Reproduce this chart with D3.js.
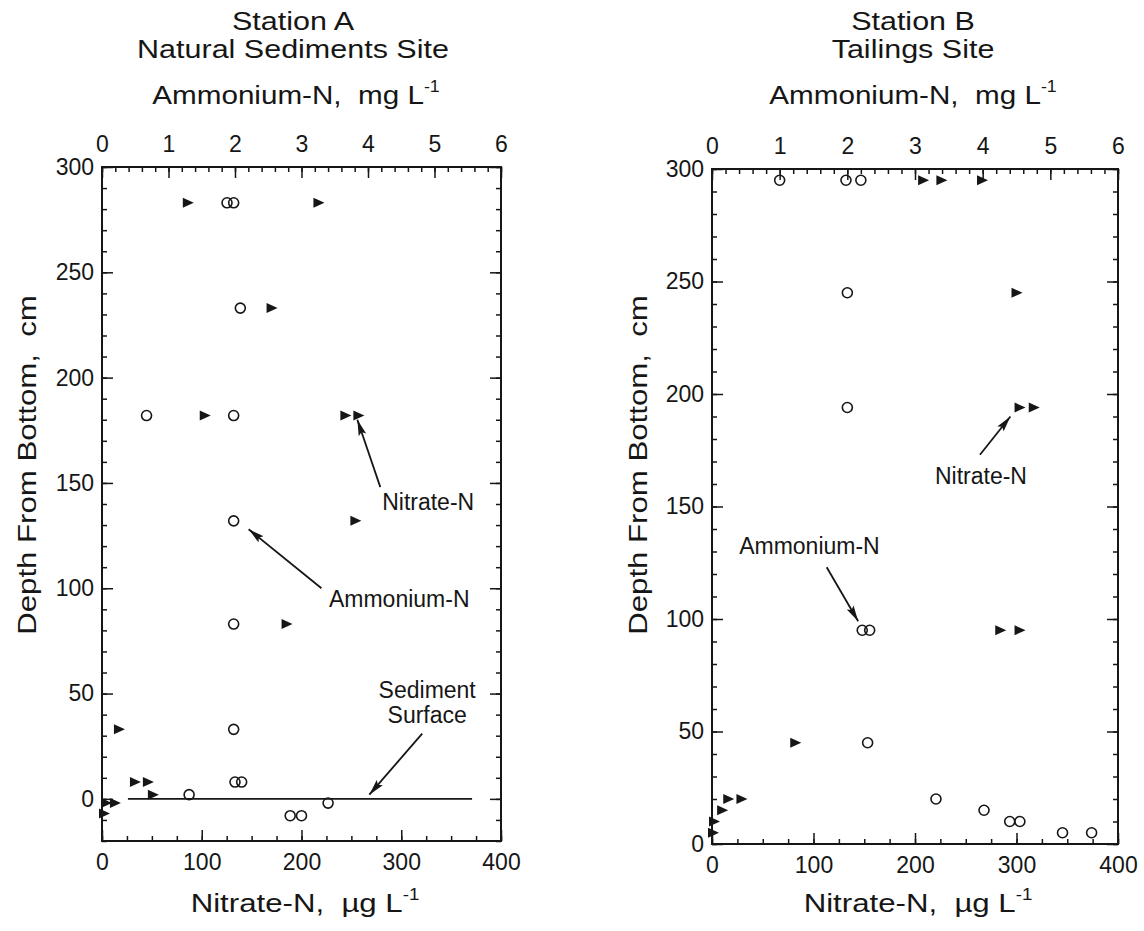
<!DOCTYPE html>
<html>
<head>
<meta charset="utf-8">
<script src="https://cdn.jsdelivr.net/npm/d3@7/dist/d3.min.js"></script>
<style>
  body { margin: 0; background: #fff; }
  svg { display: block; }
  text { font-family: "Liberation Sans", Arial, Helvetica, sans-serif; fill: #161616; }
</style>
</head>
<body>
<div id="chart"></div>
<script>
// Station A - ammonium (open circles, top axis, mg/L)
const ammoniumA_depth = [283, 283, 233, 182, 182, 132, 83, 33, 8, 8, 2, -2, -8, -8];
const ammoniumA_value = [1.88, 1.98, 2.08, 0.67, 1.98, 1.98, 1.98, 1.98, 2.0, 2.1, 1.31, 3.4, 2.83, 3.0];
// Station A - nitrate (filled triangles, bottom axis, ug/L)
const nitrateA_depth = [283, 283, 233, 182, 182, 182, 132, 83, 33, 8, 8, 2, -2, -2, -7];
const nitrateA_value = [86, 217, 170, 103, 244, 257, 254, 185, 17, 33, 46, 51, 4, 13, 2];

// Station B
const ammoniumB_depth = [295, 295, 295, 245, 194, 95, 95, 45, 20, 15, 10, 10, 5, 5];
const ammoniumB_value = [1.0, 1.98, 2.2, 2.0, 2.0, 2.22, 2.33, 2.3, 3.31, 4.02, 4.4, 4.55, 5.18, 5.61];
const nitrateB_depth = [295, 295, 295, 245, 194, 194, 95, 95, 45, 20, 20, 15, 10, 5];
const nitrateB_value = [208, 226, 266, 300, 303, 317, 284, 303, 82, 16, 29, 10, 2, 1];

// axes
const ammoniumTicks = [0, 1, 2, 3, 4, 5, 6];
const nitrateTicks = [0, 100, 200, 300, 400];
const depthTicks = [0, 50, 100, 150, 200, 250, 300];

// annotations, in (nitrate, depth) units of each panel
const annotA = [
  {lines: ["Nitrate-N"], tx: 327, ty: 137, from: [279, 148], to: [256, 180]},
  {lines: ["Ammonium-N"], tx: 298, ty: 91, from: [220, 100], to: [147, 128]},
  {lines: ["Sediment", "Surface"], tx: 326, ty: 48, from: [321, 31], to: [268, 2]}
];
const annotB = [
  {lines: ["Nitrate-N"], tx: 265, ty: 160, from: [264, 173], to: [294, 190]},
  {lines: ["Ammonium-N"], tx: 96, ty: 129, from: [113, 123], to: [144, 99]}
];
const surfaceLineA = [26, 371]; // nitrate extent of the depth-0 line

const width = 1144, height = 931;
const svg = d3.select("#chart").append("svg")
  .attr("width", width).attr("height", height);

svg.append("defs").append("marker")
  .attr("id", "arrow")
  .attr("viewBox", "0 0 16 8")
  .attr("refX", 16).attr("refY", 4)
  .attr("markerWidth", 16).attr("markerHeight", 8)
  .attr("markerUnits", "userSpaceOnUse")
  .attr("orient", "auto")
  .append("path").attr("d", "M0,0L16,4L0,8L3,4Z").attr("fill", "#161616");

function unitLabel(sel, main, sup) {
  sel.append("tspan").text(main);
  sel.append("tspan").attr("font-size", "0.6em").attr("dy", "-0.75em").text(sup);
}

// the big labels of the original are a bit wider than the font
function wideText(g, x, y, rot, size, stretch) {
  return g.append("g")
    .attr("transform", `translate(${x},${y})${rot ? " rotate(-90)" : ""} scale(${stretch},1)`)
    .append("text").attr("text-anchor", "middle").attr("font-size", size);
}

function panel(p) {
  const g = svg.append("g");
  const x = d3.scaleLinear().domain([0, 400]).range([p.left, p.right]);
  const xa = d3.scaleLinear().domain([0, 6]).range([p.left, p.right]);
  const y = d3.scaleLinear().domain(p.yDomain).range([p.bottom, p.top]);

  // minor ticks
  const minorY = d3.range(p.yDomain[0], p.yDomain[1] + 1, 10);
  const minorA = d3.range(0, 6.01, 0.2);
  const minorN = d3.range(0, 401, 25);
  const minor = [
    [d3.axisLeft(y).tickValues(minorY), p.left, 0],
    [d3.axisRight(y).tickValues(minorY), p.right, 0],
    [d3.axisTop(xa).tickValues(minorA), 0, p.top],
    [d3.axisBottom(x).tickValues(minorN), 0, p.bottom]
  ];
  minor.forEach(([ax, tx, ty]) => {
    g.append("g").attr("transform", `translate(${tx},${ty})`)
      .call(ax.tickSize(-5).tickFormat(""))
      .call(s => s.select(".domain").remove())
      .selectAll("line").attr("stroke", "#161616").attr("stroke-width", 1.3);
  });

  // major ticks + labels
  g.append("g").attr("transform", `translate(${p.left},0)`)
    .call(d3.axisLeft(y).tickValues(depthTicks).tickSize(-11).tickPadding(8).tickFormat(d3.format("d")))
    .call(s => s.select(".domain").remove());
  g.append("g").attr("transform", `translate(${p.right},0)`)
    .call(d3.axisRight(y).tickValues(depthTicks).tickSize(-11).tickFormat(""))
    .call(s => s.select(".domain").remove());
  g.append("g").attr("transform", `translate(0,${p.top})`)
    .call(d3.axisTop(xa).tickValues(ammoniumTicks).tickSize(-11).tickPadding(15).tickFormat(d3.format("d")))
    .call(s => s.select(".domain").remove());
  g.append("g").attr("transform", `translate(0,${p.bottom})`)
    .call(d3.axisBottom(x).tickValues(nitrateTicks).tickSize(-11).tickPadding(13).tickFormat(d3.format("d")))
    .call(s => s.select(".domain").remove());
  g.selectAll(".tick line").attr("stroke", "#161616").attr("stroke-width", 1.5);
  g.selectAll(".tick text").attr("font-size", 23).attr("font-family", null).attr("fill", "#161616");

  // frame
  g.append("rect")
    .attr("x", p.left).attr("y", p.top)
    .attr("width", p.right - p.left).attr("height", p.bottom - p.top)
    .attr("fill", "none").attr("stroke", "#161616").attr("stroke-width", 2);

  // titles
  p.titles.forEach((t, i) => {
    wideText(g, p.titleX, p.titleY[i], false, 25, 1.22).text(t);
  });
  wideText(g, p.topLabelX, p.topLabelY, false, 26, 1.14)
    .call(unitLabel, "Ammonium-N,\u00a0\u00a0mg L", "-1");
  wideText(g, p.bottomLabelX, p.bottomLabelY, false, 26, 1.2)
    .call(unitLabel, "Nitrate-N,\u00a0\u00a0\u00b5g L", "-1");
  wideText(g, p.yLabelX, p.yLabelY, true, 26, 1.2)
    .text("Depth From Bottom,\u00a0\u00a0cm");

  // sediment surface line
  if (p.surface) {
    g.append("line")
      .attr("x1", x(p.surface[0])).attr("x2", x(p.surface[1]))
      .attr("y1", y(0)).attr("y2", y(0))
      .attr("stroke", "#161616").attr("stroke-width", 1.6);
  }

  // ammonium circles
  g.append("g").selectAll("circle")
    .data(p.amDepth.map((d, i) => ({depth: d, v: p.amValue[i]})))
    .join("circle")
      .attr("cx", d => xa(d.v)).attr("cy", d => y(d.depth))
      .attr("r", 5).attr("fill", "none")
      .attr("stroke", "#161616").attr("stroke-width", 1.6);

  // nitrate triangles
  g.append("g").selectAll("path")
    .data(p.niDepth.map((d, i) => ({depth: d, v: p.niValue[i]})))
    .join("path")
      .attr("transform", d => `translate(${x(d.v)},${y(d.depth)})`)
      .attr("d", "M-5,-5L6,0L-5,5Z")
      .attr("fill", "#161616");

  // annotations
  p.annot.forEach(a => {
    a.lines.forEach((l, i) => {
      g.append("text").attr("x", x(a.tx)).attr("y", y(a.ty) + i * 25)
        .attr("text-anchor", "middle").attr("font-size", 23).text(l);
    });
    g.append("line")
      .attr("x1", x(a.from[0])).attr("y1", y(a.from[1]))
      .attr("x2", x(a.to[0])).attr("y2", y(a.to[1]))
      .attr("stroke", "#161616").attr("stroke-width", 1.8)
      .attr("marker-end", "url(#arrow)");
  });
}

panel({
  left: 102, right: 501, top: 167, bottom: 841, yDomain: [-20, 300],
  titles: ["Station A", "Natural Sediments Site"], titleX: 293, titleY: [30, 58],
  topLabelX: 296, topLabelY: 104, bottomLabelX: 305, bottomLabelY: 912,
  yLabelX: 36, yLabelY: 465,
  amDepth: ammoniumA_depth, amValue: ammoniumA_value,
  niDepth: nitrateA_depth, niValue: nitrateA_value,
  annot: annotA, surface: surfaceLineA
});

panel({
  left: 712, right: 1118, top: 169, bottom: 844, yDomain: [0, 300],
  titles: ["Station B", "Tailings Site"], titleX: 913, titleY: [30, 58],
  topLabelX: 913, topLabelY: 104, bottomLabelX: 918, bottomLabelY: 912,
  yLabelX: 647, yLabelY: 465,
  amDepth: ammoniumB_depth, amValue: ammoniumB_value,
  niDepth: nitrateB_depth, niValue: nitrateB_value,
  annot: annotB, surface: null
});
</script>
</body>
</html>
